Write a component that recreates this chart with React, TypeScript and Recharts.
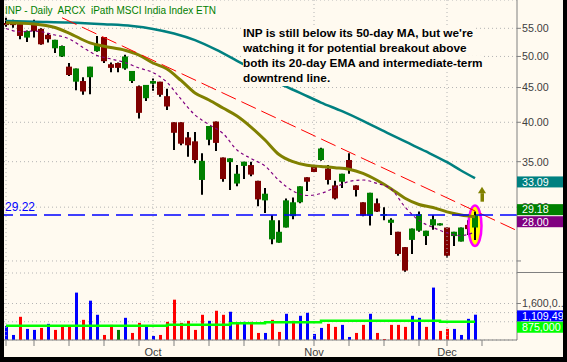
import { ComposedChart, Bar, Line, XAxis, YAxis, CartesianGrid, ReferenceLine, ReferenceDot } from 'recharts';

const FONT = "'Liberation Sans', Arial, sans-serif";
const BG = '#fffaf0';

// trading days, Sep 2 .. Dec 5 2008
const dates = [
  '2008-09-02', '2008-09-03', '2008-09-04', '2008-09-05', '2008-09-08', '2008-09-09', '2008-09-10', '2008-09-11', '2008-09-12', '2008-09-15',
  '2008-09-16', '2008-09-17', '2008-09-18', '2008-09-19', '2008-09-22', '2008-09-23', '2008-09-24', '2008-09-25', '2008-09-26', '2008-09-29',
  '2008-09-30', '2008-10-01', '2008-10-02', '2008-10-03', '2008-10-06', '2008-10-07', '2008-10-08', '2008-10-09', '2008-10-10', '2008-10-13',
  '2008-10-14', '2008-10-15', '2008-10-16', '2008-10-17', '2008-10-20', '2008-10-21', '2008-10-22', '2008-10-23', '2008-10-24', '2008-10-27',
  '2008-10-28', '2008-10-29', '2008-10-30', '2008-10-31', '2008-11-03', '2008-11-04', '2008-11-05', '2008-11-06', '2008-11-07', '2008-11-10',
  '2008-11-11', '2008-11-12', '2008-11-13', '2008-11-14', '2008-11-17', '2008-11-18', '2008-11-19', '2008-11-20', '2008-11-21', '2008-11-24',
  '2008-11-25', '2008-11-26', '2008-11-28', '2008-12-01', '2008-12-02', '2008-12-03', '2008-12-04', '2008-12-05',
];

const open = [
  56.0, 56.3, 55.8, 53.3, 55.9, 54.9, 53.8, 51.4, 50.0, 48.3,
  45.9, 46.0, 46.6, 50.9, 53.4, 48.7, 48.9, 48.0, 46.0, 45.2,
  43.4, 45.6, 45.9, 43.7, 40.0, 40.0, 38.0, 37.5, 32.9, 37.7,
  40.1, 35.5, 34.95, 32.5, 34.5, 34.6, 32.8, 30.7, 26.9, 26.6,
  28.0, 29.1, 30.5, 33.2, 34.4, 35.2, 34.2, 32.3, 32.7, 35.2,
  32.3, 30.5, 29.15, 30.4, 29.15, 28.45, 27.6, 26.2, 26.85, 27.7,
  27.2, 28.2, 28.2, 28.0, 27.2, 26.7, 28.25, 28.0,
];
const high = [
  57.0, 56.6, 55.9, 54.6, 56.6, 55.0, 54.1, 52.9, 51.9, 48.9,
  48.0, 46.6, 48.3, 53.6, 53.4, 49.0, 49.0, 50.3, 47.6, 45.3,
  45.4, 46.4, 45.9, 44.8, 40.0, 40.0, 38.7, 38.7, 36.0, 39.5,
  40.1, 35.5, 35.4, 34.6, 35.0, 35.0, 32.8, 32.0, 29.2, 28.7,
  30.9, 31.0, 32.2, 33.2, 34.4, 36.7, 34.6, 32.8, 33.6, 36.0,
  32.3, 30.5, 31.5, 30.9, 30.0, 28.9, 27.6, 26.2, 27.9, 29.55,
  27.7, 29.2, 28.4, 28.0, 27.6, 28.0, 28.7, 29.55,
];
const low = [
  55.3, 55.1, 53.0, 52.5, 53.3, 52.0, 52.4, 50.6, 49.9, 46.8,
  44.6, 43.9, 44.0, 50.8, 48.9, 47.4, 47.4, 47.8, 45.7, 40.5,
  43.0, 44.5, 43.6, 41.7, 36.4, 37.0, 35.6, 34.8, 31.3, 37.0,
  36.3, 32.7, 31.8, 32.2, 33.0, 33.3, 30.1, 29.4, 26.45, 26.6,
  28.0, 28.8, 30.4, 31.7, 33.8, 35.1, 32.4, 30.8, 32.0, 33.6,
  31.1, 29.1, 28.2, 29.5, 28.7, 27.3, 25.45, 24.1, 25.6, 27.6,
  26.4, 27.8, 28.2, 25.3, 26.3, 26.7, 27.3, 26.85,
];
const close = [
  55.6, 55.6, 53.6, 54.5, 54.5, 52.1, 53.0, 52.9, 51.8, 46.95,
  48.0, 44.4, 48.3, 52.1, 49.2, 48.1, 48.1, 50.0, 47.6, 41.3,
  45.4, 46.0, 43.9, 42.2, 38.6, 37.2, 37.0, 35.2, 35.1, 39.5,
  37.3, 33.0, 35.4, 33.6, 35.0, 33.5, 30.8, 31.4, 28.7, 27.6,
  30.7, 30.5, 32.2, 32.7, 33.8, 36.6, 32.9, 30.9, 33.6, 34.1,
  31.8, 29.15, 31.5, 29.55, 29.3, 28.75, 25.6, 24.2, 27.9, 29.3,
  27.7, 28.8, 28.4, 25.45, 27.6, 28.0, 27.85, 29.18,
];

const volume = [
  619000, 221000, 1017000, 486000, 442000, 530000, 707000, 442000, 575000, 575000,
  2077000, 884000, 1724000, 1105000, 221000, 663000, 442000, 972000, 309000, 751000,
  619000, 177000, 221000, 796000, 1768000, 751000, 840000, 442000, 1105000, 840000,
  1282000, 1105000, 1238000, 707000, 796000, 796000, 309000, 309000, 884000, 354000,
  1149000, 840000, 1061000, 1193000, 265000, 530000, 707000, 575000, 663000, 133000,
  309000, 663000, 1149000, 309000, 44000, 663000, 663000, 575000, 1061000, 972000,
  575000, 2298000, 398000, 486000, 486000, 221000, 928000, 1109490,
];
// u = up (blue), d = down (red), n = unchanged (green), ten bars per chunk
const volDir = [
  'uuduududdd',
  'uduuddnudd',
  'uudddddddu',
  'ddududdudd',
  'uduuuudduu',
  'dduddddduu',
  'dudduuuu',
].join('');

// indicator readings [bar index, value]
const ma50Pts = [
  [0, 56.38], [4, 56.24], [9, 56.09], [14, 55.77], [18, 55.43], [21, 54.89], [24, 54.04], [27, 52.83], [30, 51.15], [33, 49.26],
  [36, 47.43], [39, 45.62], [42, 44.2], [45, 42.76], [48, 41.53], [51, 40.2], [54, 38.81], [57, 37.48], [60, 36.23], [63, 34.94],
  [65, 33.97], [67, 33.09],
];
const ema20Pts = [
  [0, 56.05], [4, 55.81], [7, 55.15], [9, 54.13], [12, 52.35], [14, 51.77], [17, 51.07], [19, 50.24], [21, 48.9], [23, 47.92],
  [25, 46.09], [27, 44.18], [29, 43.14], [31, 41.98], [33, 40.86], [35, 39.36], [37, 37.67], [39, 35.86], [41, 35.0], [43, 34.58],
  [45, 34.44], [47, 34.3], [49, 34.12], [51, 33.63], [53, 32.86], [55, 31.94], [57, 30.92], [59, 30.27], [61, 29.97], [63, 29.52],
  [65, 29.22], [67, 29.05],
];
const ma10Pts = [
  [0, 54.96], [2, 54.37], [4, 54.5], [7, 53.77], [9, 53.08], [11, 51.54], [13, 50.16], [15, 49.57], [17, 48.98], [19, 48.08],
  [21, 47.35], [23, 45.8], [25, 43.25], [27, 41.0], [29, 39.7], [31, 38.51], [33, 36.41], [35, 35.38], [37, 34.49], [39, 32.84],
  [41, 31.69], [43, 31.21], [45, 31.42], [47, 32.07], [49, 32.73], [51, 32.89], [53, 32.51], [55, 31.91], [57, 30.02], [59, 28.67],
  [61, 28.01], [63, 27.49], [65, 27.24], [67, 27.58],
];
const volMaPts = [
  [0, 627000], [23, 671000], [32, 732000], [37, 780000], [45, 846000], [62, 802000], [67, 802000],
];

const trendline = [{ i: 8, price: 57.0 }, { i: 73, price: 27.71 }];
const support = 29.22;
const highlightIdx = 67;
const arrowAt = { i: 68, price: 31.35 };

const priceTicks = [25, 30, 35, 40, 45, 50, 55];
const hiddenPriceLabels = [25];
const volTicks = [800000, 1200000, 1600000];
const volTickLabels: Record<number, string> = { 1600000: '1,600,0..' };
const weekTicks = [0, 4, 9, 14, 19, 24, 29, 34, 39, 44, 49, 54, 59, 63, 68];
const monthGrid = [0, 21, 44, 63];
const monthTicks = [21, 44, 63];
const monthLabels = ['Oct', 'Nov', 'Dec'];
const allTicks = Array.from(new Set([...weekTicks, ...monthTicks])).sort((a, b) => a - b);

const priceTags = [
  { value: 33.09, text: '33.09', fill: '#008080', dy: 3.7 },
  { value: 29.18, text: '29.18', fill: '#008000', dy: -5.7 },
  { value: 28.0, text: '28.00', fill: '#800080', dy: -5.8 },
];
const volTags = [
  { value: 1109490, text: '1,109,490', fill: '#0000ff', dy: 1.2 },
  { value: 875000, text: '875,000', fill: '#00ff00', dy: 7.2 },
];

const X_DOMAIN: [number, number] = [-2 / 7, 73];
const PRICE_DOMAIN: [number, number] = [24.0, 60.54];
const VOL_DOMAIN: [number, number] = [0, 2937000];
const VOL_COLORS: Record<string, string> = { u: '#0000ff', d: '#ff0000', n: '#008000' };
const MARGIN = { top: 0, right: 0, bottom: 0, left: 4 };

type Row = {
  i: number; date: string; open: number; high: number; low: number; close: number;
  volume: number; dir: string;
  ma50: number | null; ema20: number | null; ma10: number | null; volMa: number | null;
};

const rows: Row[] = dates.map((date, i) => ({
  i, date, open: open[i], high: high[i], low: low[i], close: close[i],
  volume: volume[i], dir: volDir[i],
  ma50: null, ema20: null, ma10: null, volMa: null,
}));
ma50Pts.forEach(([i, v]) => (rows[i].ma50 = v));
ema20Pts.forEach(([i, v]) => (rows[i].ema20 = v));
ma10Pts.forEach(([i, v]) => (rows[i].ma10 = v));
volMaPts.forEach(([i, v]) => (rows[i].volMa = v));

function Candle(props: any) {
  const { x, y, width, height, payload } = props;
  if (!payload) return <g />;
  const { open: o, high: h, low: l, close: c } = payload;
  const top = Math.min(y, y + height);
  const bot = Math.max(y, y + height);
  const lh = Math.log(h);
  const ll = Math.log(l);
  const py = (v: number) => (lh === ll ? top : top + ((bot - top) * (lh - Math.log(v))) / (lh - ll));
  const cx = Math.round(x + width / 2);
  const bodyTop = Math.min(py(o), py(c));
  const bodyH = Math.max(1, Math.abs(py(o) - py(c)));
  return (
    <g>
      {payload.i === highlightIdx && (
        <ellipse cx={cx} cy={(top + bot) / 2} rx={6.5} ry={(bot - top) / 2 + 6} fill="#ffff00" stroke="#ff00ff" strokeWidth={2.5} />
      )}
      <line x1={cx} x2={cx} y1={top} y2={bot} stroke="#000" strokeWidth={2} />
      <rect x={cx - 3} y={bodyTop} width={6} height={bodyH} fill={c >= o ? '#008000' : '#800000'} />
    </g>
  );
}

function VolBar(props: any) {
  const { x, y, width, height, payload } = props;
  if (!payload) return <g />;
  const cx = Math.round(x + width / 2);
  return <rect x={cx - 1} y={y} width={3} height={Math.max(0, height)} fill={VOL_COLORS[payload.dir]} />;
}

function Arrow(props: any) {
  const { cx, cy } = props;
  return (
    <g fill="#808000">
      <path d={`M${cx},${cy - 7.5} L${cx + 4},${cy - 1} L${cx - 4},${cy - 1} Z`} />
      <rect x={cx - 1.5} y={cy - 1} width={3.5} height={8.5} />
    </g>
  );
}

function PriceTick(props: any) {
  const { x, y, payload } = props;
  if (hiddenPriceLabels.includes(payload.value)) return <g />;
  return (
    <text x={x} y={y} dy="0.36em" textAnchor="start" fontSize={10.7} fontFamily={FONT} fill="#404040">
      {payload.value.toFixed(2)}
    </text>
  );
}

function VolTick(props: any) {
  const { x, y, payload } = props;
  const label = volTickLabels[payload.value];
  if (!label) return <g />;
  return (
    <text x={x} y={y} dy="0.36em" textAnchor="start" fontSize={10.7} fontFamily={FONT} fill="#404040">
      {label}
    </text>
  );
}

function TimeTick(props: any) {
  const { x, y, payload } = props;
  const v = payload.value;
  const mi = monthTicks.indexOf(v);
  return (
    <g>
      {weekTicks.includes(v) && <line x1={x} x2={x} y1={y - 6} y2={y} stroke="#808080" />}
      {mi >= 0 && (
        <text x={x} y={y + 10} textAnchor="middle" fontSize={11} fontFamily={FONT} fill="#404040">
          {monthLabels[mi]}
        </text>
      )}
    </g>
  );
}

const tagLabel = (text: string, fill: string, dy: number) => (p: any) => {
  const vb = p.viewBox;
  const cy = vb.y + dy;
  const left = vb.x + vb.width;
  return (
    <g>
      <rect x={left} y={cy - 5.5} width={50} height={11} fill={fill} />
      <text x={left + 5} y={cy} dy="0.36em" fill="#ffffff" fontSize={10.7} fontFamily={FONT}>
        {text}
      </text>
    </g>
  );
};

const supportLabel = (p: any) => (
  <text x={p.viewBox.x + 1} y={p.viewBox.y - 3.6} fill="#0000ff" fontSize={12} fontFamily={FONT}>
    {support.toFixed(2)}
  </text>
);

// transparent chart with the same scales, drawn on top so the value tags cover the axis labels
function TagLayer(props: { height: number; domain: [number, number]; log?: boolean; tags: { value: number; text: string; fill: string; dy: number }[] }) {
  return (
    <ComposedChart width={567} height={props.height} data={rows} margin={MARGIN}>
      <XAxis type="number" dataKey="i" domain={X_DOMAIN} allowDataOverflow hide />
      <YAxis
        orientation="right"
        width={50}
        scale={props.log ? 'log' : 'auto'}
        domain={props.domain}
        allowDataOverflow
        tick={false}
        axisLine={false}
        tickLine={false}
      />
      {props.tags.map((t) => (
        <ReferenceLine key={t.value} y={t.value} stroke="none" label={tagLabel(t.text, t.fill, t.dy)} />
      ))}
    </ComposedChart>
  );
}

const noteLines = [
  "INP is still below its 50-day MA, but we're",
  'watching it for potential breakout above',
  'both its 20-day EMA and intermediate-term',
  'downtrend line.',
];

export default function App() {
  return (
    <div style={{ position: 'absolute', left: 0, top: 0, width: 567, height: 362, background: BG, overflow: 'hidden', fontFamily: FONT }}>
      <div style={{ position: 'absolute', left: 0, top: 0 }}>
        <ComposedChart width={567} height={273} data={rows} margin={MARGIN}>
          <CartesianGrid vertical={false} stroke="#b4b4b4" strokeDasharray="1 3" />
          <XAxis type="number" dataKey="i" domain={X_DOMAIN} ticks={allTicks} allowDataOverflow hide />
          <YAxis
            orientation="right"
            width={50}
            scale="log"
            domain={PRICE_DOMAIN}
            allowDataOverflow
            ticks={priceTicks}
            interval={0}
            tickSize={4}
            tickMargin={1}
            stroke="#808080"
            tick={<PriceTick />}
          />
          {monthGrid.map((m) => (
            <ReferenceLine key={m} x={m} stroke="#b4b4b4" strokeDasharray="1 3" />
          ))}
          <Bar dataKey={(d: Row) => [d.low, d.high]} barSize={6} shape={<Candle />} isAnimationActive={false} />
          <Line dataKey="ma50" type="monotone" stroke="#008080" strokeWidth={2.5} dot={false} connectNulls isAnimationActive={false} />
          <Line dataKey="ema20" type="monotone" stroke="#808000" strokeWidth={3} dot={false} connectNulls isAnimationActive={false} />
          <Line dataKey="ma10" type="monotone" stroke="#800080" strokeWidth={1.2} strokeDasharray="3 3" dot={false} connectNulls isAnimationActive={false} />
          <ReferenceLine
            segment={[{ x: trendline[0].i, y: trendline[0].price }, { x: trendline[1].i, y: trendline[1].price }]}
            stroke="#ff0000"
            strokeWidth={1}
            strokeDasharray="16 6"
          />
          <ReferenceLine y={support} stroke="#0000ff" strokeWidth={1.5} strokeDasharray="17 7" label={supportLabel} />
          <ReferenceDot x={arrowAt.i} y={arrowAt.price} shape={Arrow} />
        </ComposedChart>
      </div>
      <div style={{ position: 'absolute', left: 0, top: 0, pointerEvents: 'none' }}>
        <TagLayer height={273} domain={PRICE_DOMAIN} log tags={priceTags} />
      </div>

      <div style={{ position: 'absolute', left: 0, top: 273 }}>
        <ComposedChart width={567} height={84} data={rows} margin={MARGIN}>
          <CartesianGrid vertical={false} stroke="#b4b4b4" strokeDasharray="1 3" />
          <XAxis
            type="number"
            dataKey="i"
            domain={X_DOMAIN}
            allowDataOverflow
            ticks={allTicks}
            interval={0}
            height={17}
            tickSize={6}
            tickMargin={0}
            tickLine={false}
            stroke="#808080"
            tick={<TimeTick />}
          />
          <YAxis
            orientation="right"
            width={50}
            domain={VOL_DOMAIN}
            allowDataOverflow
            ticks={volTicks}
            interval={0}
            tickSize={4}
            tickMargin={1}
            stroke="#808080"
            tick={<VolTick />}
          />
          {monthGrid.map((m) => (
            <ReferenceLine key={m} x={m} stroke="#b4b4b4" strokeDasharray="1 3" />
          ))}
          <Bar dataKey="volume" barSize={3} shape={<VolBar />} isAnimationActive={false} />
          <Line dataKey="volMa" type="stepAfter" stroke="#00ff00" strokeWidth={2.5} dot={false} connectNulls isAnimationActive={false} />
        </ComposedChart>
      </div>
      <div style={{ position: 'absolute', left: 0, top: 273, pointerEvents: 'none' }}>
        <TagLayer height={67} domain={VOL_DOMAIN} tags={volTags} />
      </div>

      <div style={{ position: 'absolute', left: 5, top: 4.7, fontSize: 10, lineHeight: '12px', color: '#008000', whiteSpace: 'pre' }}>
        {'INP - Daily  ARCX  iPath MSCI India Index ETN'}
      </div>

      <div style={{ position: 'absolute', left: 243, top: 26 }}>
        {noteLines.map((line) => (
          <div
            key={line}
            style={{ width: 'fit-content', background: BG, fontSize: 11.8, fontWeight: 'bold', lineHeight: '15px', color: '#000', whiteSpace: 'pre' }}
          >
            {line}
          </div>
        ))}
      </div>

      <div style={{ position: 'absolute', left: 517, top: 272, width: 50, height: 1, background: '#808080' }} />
      <div style={{ position: 'absolute', left: 0, top: 0, width: 4, height: 362, background: '#000' }} />
      <div style={{ position: 'absolute', left: 563, top: 0, width: 4, height: 362, background: '#000' }} />
      <div style={{ position: 'absolute', left: 0, top: 357, width: 567, height: 5, background: '#000' }} />
    </div>
  );
}
